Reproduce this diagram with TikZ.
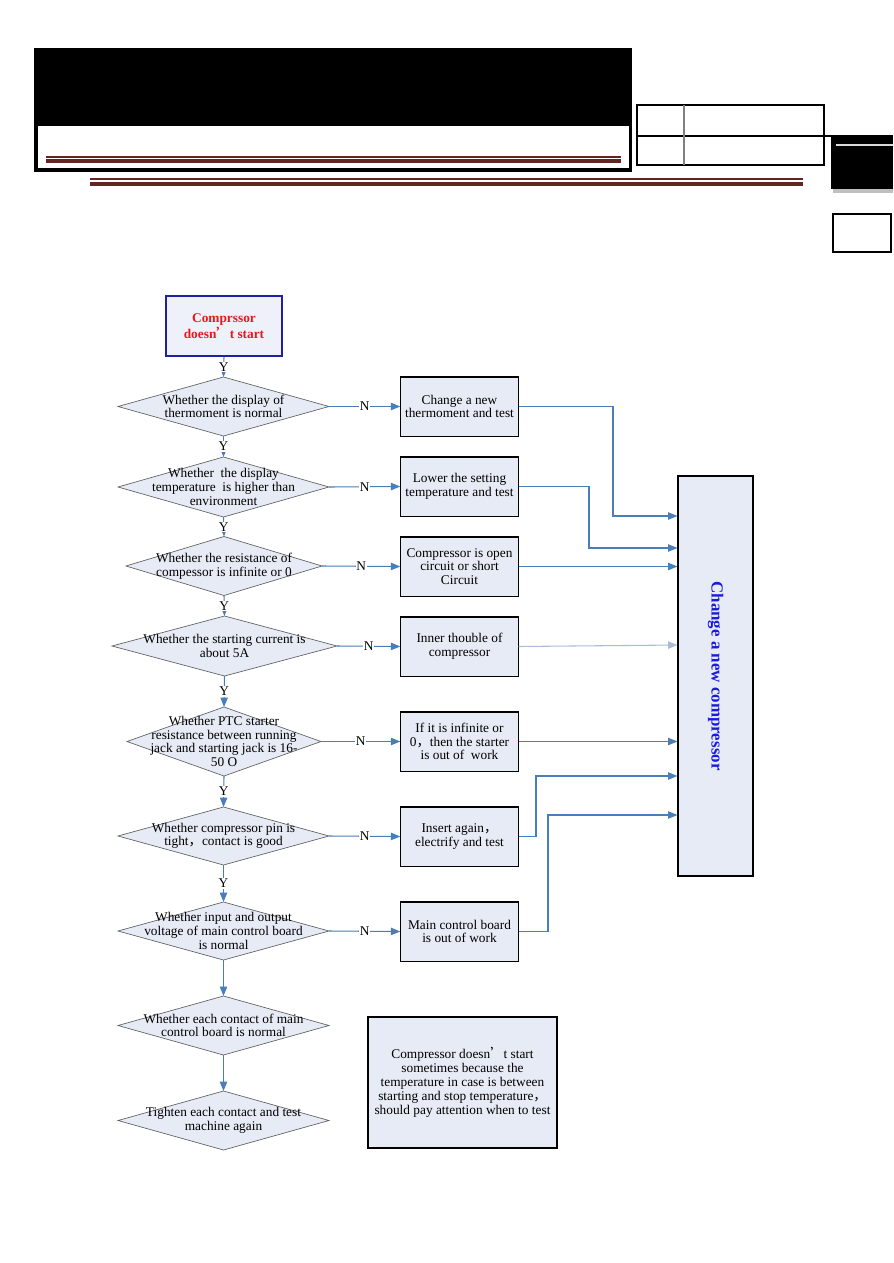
\documentclass[tikz,border=0pt]{standalone}
\usepackage{fontspec}
\setmainfont{Liberation Serif}
\newfontfamily\cjk{Noto Sans CJK SC}
\usetikzlibrary{arrows.meta}
\definecolor{lblue}{HTML}{4A7EBB}
\definecolor{lblueb}{HTML}{A9BCD8}
\definecolor{pale}{HTML}{E6EBF5}
\definecolor{palestart}{HTML}{EEF0FA}
\definecolor{maroonc}{HTML}{632523}
\definecolor{startred}{HTML}{E8191B}
\definecolor{bigblue}{HTML}{1A1AE0}
\definecolor{startborder}{HTML}{1F1FA8}
\definecolor{dgray}{HTML}{606060}
\newcommand\flowdia[6]{%
  \filldraw[dshape] (#2-#4,#3) -- (#2,#3-#5) -- (#2+#4,#3) -- (#2,#3+#5) -- cycle;
  \node[dtxt] (#1) at (#2,#3) {#6};
  \coordinate (#1-t) at (#2,#3-#5);
  \coordinate (#1-b) at (#2,#3+#5);
  \coordinate (#1-r) at (#2+#4,#3);
}
\tikzset{
  txt/.style={font=\fontsize{10}{10.2}\selectfont},
  dshape/.style={draw=dgray, fill=pale, line width=0.5pt},
  dtxt/.style={txt, align=center, inner sep=0pt},
  bx/.style={draw=black, fill=pale, line width=0.8pt, txt, align=center,
     minimum width=88pt, minimum height=44.3pt, inner sep=1pt},
  conn/.style={draw=lblue, line width=0.8pt, -{Triangle[length=7pt,width=5.5pt]}},
  ylab/.style={txt, fill=white, inner sep=0.6pt},
  nlab/.style={txt, fill=white, inner sep=0.6pt},
}
\begin{document}
\begin{tikzpicture}[x=0.75pt,y=-0.75pt]
\useasboundingbox (0,0) rectangle (893,1263);
% ---------- header ----------
\fill[black] (34,48) rectangle (632,126);
\draw[black, line width=2.6pt] (36,124) -- (36,170) -- (630.5,170) -- (630.5,124);
\draw[maroonc, line width=0.8pt] (46,157) -- (621,157);
\draw[maroonc, line width=3pt] (46,161) -- (621,161);
\draw[maroonc, line width=0.8pt] (90,179) -- (803,179);
\draw[maroonc, line width=3pt] (90,184) -- (803,184);
\draw[black, line width=1.6pt] (637,105) rectangle (824,165);
\draw[black, line width=1.2pt] (637,136) -- (832,136);
\draw[gray, line width=1.2pt] (684,105) -- (684,165);
\fill[gray!50] (833,189) rectangle (893,193);
\fill[black] (831,135) rectangle (893,189);
\draw[white!85!black, line width=0.8pt] (836,145) -- (893,145);
\draw[black, line width=1.2pt] (833,214) rectangle (891,252);
% ---------- start ----------
\node[draw=startborder, fill=palestart, line width=0.8pt, minimum width=87pt, minimum height=45pt,
  align=center, font=\fontsize{10}{10.5}\selectfont\bfseries, text=startred] (start) at (224,326)
  {Comprssor\\doesn{\cjk ’}t start};
% ---------- diamonds ----------
\flowdia{d1}{223.5}{406.5}{105.5}{29.5}{Whether the display of\\thermoment is normal}
\flowdia{d2}{223.5}{487}{105.5}{30}{Whether~ the display\\temperature~ is higher than\\environment}
\flowdia{d3}{224}{566}{98}{29.5}{Whether the resistance of\\compessor is infinite or 0}
\flowdia{d4}{224.5}{646}{112.5}{30}{Whether the starting current is\\about 5A}
\flowdia{d5}{224}{741.5}{97}{34.5}{Whether PTC starter\\resistance between running\\jack and starting jack is 16-\\50 O}
\flowdia{d6}{223.5}{836}{105.5}{29}{Whether compressor pin is\\tight{\cjk ，}contact is good}
\flowdia{d7}{223.5}{931}{105.5}{29}{Whether input and output\\voltage of main control board\\is normal}
\flowdia{d8}{223.5}{1025.5}{105.5}{29.5}{Whether each contact of main\\control board is normal}
\flowdia{d9}{223.5}{1120.5}{105.5}{29.5}{Tighten each contact and test\\machine again}
% ---------- boxes ----------
\node[bx] (b1) at (459.5,406.5) {Change a new\\thermoment and test};
\node[bx] (b2) at (459.5,486.5) {Lower the setting\\temperature and test};
\node[bx] (b3) at (459.5,566.5) {Compressor is open\\circuit or short\\Circuit};
\node[bx] (b4) at (459.5,646.5) {Inner thouble of\\compressor};
\node[bx] (b5) at (459.5,741.5) {If it is infinite or\\0{\cjk ，}then the starter\\is out of~ work};
\node[bx] (b6) at (459.5,836.5) {Insert again{\cjk ，}\\electrify and test};
\node[bx] (b7) at (459.5,931.5) {Main control board\\is out of work};
\node[draw=black, fill=pale, line width=0.8pt, rotate=-90, minimum width=300pt, minimum height=56.25pt,
  font=\fontsize{12.7}{13}\selectfont\bfseries, text=bigblue] (big) at (715.5,676) {Change a new compressor};
\node[draw=black, fill=pale, line width=0.8pt, minimum width=141.75pt, minimum height=98.25pt,
  font=\fontsize{10}{10.4}\selectfont, align=center, inner sep=1pt] (note) at (462.5,1082.5)
  {Compressor doesn{\cjk ’}t start\\sometimes because the\\temperature in case is between\\starting and stop temperature{\cjk ，}\\should pay attention when to test};
% ---------- vertical connectors ----------
\draw[conn] (start.south) -- node[ylab]{Y} (d1-t);
\draw[conn] (d1-b) -- node[ylab]{Y} (d2-t);
\draw[conn] (d2-b) -- node[ylab]{Y} (d3-t);
\draw[conn] (d3-b) -- node[ylab]{Y} (d4-t);
\draw[conn] (d4-b) -- node[ylab]{Y} (d5-t);
\draw[conn] (d5-b) -- node[ylab]{Y} (d6-t);
\draw[conn] (d6-b) -- node[ylab]{Y} (d7-t);
\draw[conn] (d7-b) -- (d8-t);
\draw[conn] (d8-b) -- (d9-t);
% ---------- N connectors ----------
\draw[conn] (d1-r) -- node[nlab]{N} (b1.west);
\draw[conn] (d2-r) -- node[nlab]{N} (b2.west);
\draw[conn] (d3-r) -- node[nlab]{N} (b3.west);
\draw[conn] (d4-r) -- node[nlab]{N} (b4.west);
\draw[conn] (d5-r) -- node[nlab]{N} (b5.west);
\draw[conn] (d6-r) -- node[nlab]{N} (b6.west);
\draw[conn] (d7-r) -- node[nlab]{N} (b7.west);
% ---------- to big box ----------
\draw[conn] (b1.east) -- (613,406.5) |- (big.south |- 0,516);
\draw[conn] (b2.east) -- (589,486.5) |- (big.south |- 0,548);
\draw[conn] (b3.east) -- (big.south |- b3.east);
\draw[conn, draw=lblueb] (b4.east) -- (big.south |- 0,645);
\draw[conn] (b5.east) -- (big.south |- b5.east);
\draw[conn] (b6.east) -- (536,836.5) |- (big.south |- 0,776);
\draw[conn] (b7.east) -- (548,931.5) |- (big.south |- 0,815);
\end{tikzpicture}
\end{document}
